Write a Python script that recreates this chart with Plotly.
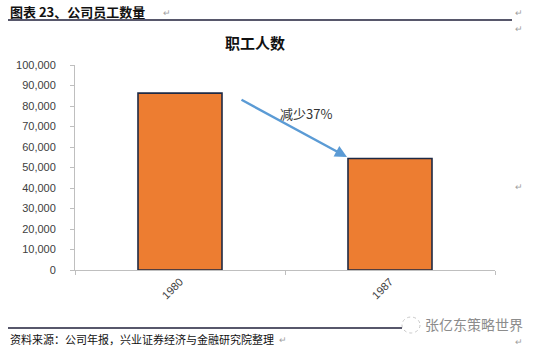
import plotly.graph_objects as go

# Headcount by year
years = ["1980", "1987"]
staff = [86300, 54400]
change_label = "减少37%"
y_ticks = [0, 10000, 20000, 30000, 40000, 50000, 60000, 70000, 80000, 90000, 100000]

W, H = 535, 348
L, R, T, B = 75, 495, 65, 270  # plot area in pixels


def px(x):
    return (x - L) / (R - L)


def py(y):
    return (B - y) / (B - T)


CJK = "Noto Sans CJK SC"
fig = go.Figure()
fig.add_trace(go.Bar(
    x=years, y=staff,
    marker=dict(color="#ED7D31", line=dict(color="#1F2A44", width=1.6)),
    width=0.4,
    hoverinfo="skip",
))

fig.update_layout(
    width=W, height=H,
    margin=dict(l=L, r=W - R, t=T, b=H - B),
    paper_bgcolor="white", plot_bgcolor="white",
    showlegend=False,
    font=dict(family="Liberation Sans, Arial", size=11, color="#404040"),
    xaxis=dict(
        type="category", showline=True, linecolor="#BFBFBF", linewidth=1,
        ticks="outside", tickson="boundaries", ticklen=4, tickcolor="#BFBFBF",
        tickangle=-45, showgrid=False, tickfont=dict(size=11, color="#404040"),
    ),
    yaxis=dict(
        range=[0, 100000], tickvals=y_ticks, tickformat=",d",
        showline=True, linecolor="#BFBFBF", linewidth=1,
        ticks="outside", ticklen=4, tickcolor="#BFBFBF",
        showgrid=False, zeroline=False, ticklabelstandoff=12,
        tickfont=dict(size=11, color="#404040"),
    ),
)

annotations = [
    # header
    dict(x=px(8), y=py(11), text="<b>图表 23、公司员工数量</b>", xanchor="left", yanchor="middle",
         font=dict(family=CJK, size=13, color="#111111")),
    dict(x=px(161), y=py(12), text="↵", xanchor="left", yanchor="middle",
         font=dict(family=CJK, size=9, color="#A0A0A0")),
    # chart title
    dict(x=px(255), y=py(43), text="<b>职工人数</b>", xanchor="center", yanchor="middle",
         font=dict(family=CJK, size=15, color="#111111")),
    # change arrow and label
    dict(x=px(347), y=py(157), ax=-107, ay=-58, axref="pixel", ayref="pixel",
         showarrow=True, arrowhead=2, arrowsize=1, arrowwidth=2.4, arrowcolor="#5B9BD5",
         text=""),
    dict(x=px(306), y=py(113), text=change_label, xanchor="center", yanchor="middle",
         font=dict(family=CJK, size=13, color="#333333")),
    # source line
    dict(x=px(8), y=py(339), text="资料来源：公司年报，兴业证券经济与金融研究院整理", xanchor="left",
         yanchor="middle", font=dict(family=CJK, size=11, color="#111111")),
    dict(x=px(277), y=py(339), text="↵", xanchor="left", yanchor="middle",
         font=dict(family=CJK, size=9, color="#A0A0A0")),
    # watermark
    dict(x=px(474), y=py(324), text="张亿东策略世界", xanchor="center", yanchor="middle",
         font=dict(family=CJK, size=14, color="#8C8C8C")),
]
for yy in (12, 28, 186, 341):
    annotations.append(dict(x=px(519), y=py(yy), text="↵", xanchor="center", yanchor="middle",
                            font=dict(family=CJK, size=9, color="#A0A0A0")))
for a in annotations:
    a.setdefault("xref", "paper")
    a.setdefault("yref", "paper")
    a.setdefault("showarrow", False)
fig.update_layout(annotations=annotations)

fig.update_layout(shapes=[
    dict(type="line", xref="paper", yref="paper", x0=px(8), x1=px(512), y0=py(20), y1=py(20),
         line=dict(color="#1F1F3A", width=1.3)),
    dict(type="line", xref="paper", yref="paper", x0=px(8), x1=px(402), y0=py(328), y1=py(328),
         line=dict(color="#1F1F3A", width=1.3)),
    dict(type="circle", xref="paper", yref="paper", x0=px(402), x1=px(420), y0=py(317), y1=py(333),
         line=dict(color="#C8C8C8", width=1, dash="dot")),
])

fig.write_html("out.html")
